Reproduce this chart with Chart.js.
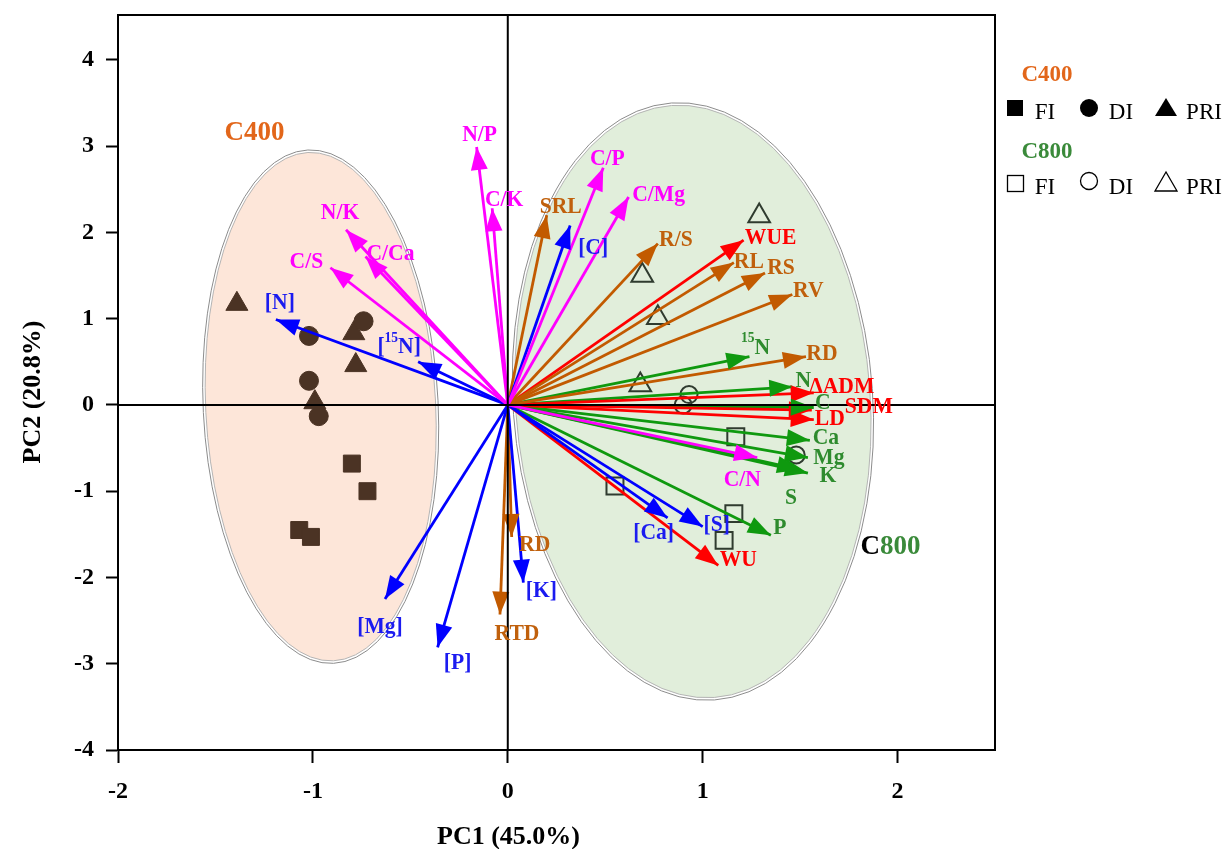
<!DOCTYPE html>
<html>
<head>
<meta charset="utf-8">
<script src="https://cdn.jsdelivr.net/npm/chart.js@4.4.1/dist/chart.umd.min.js"></script>
<style>
  body { margin: 0; background: #fff; }
  #wrap { width: 1224px; height: 849px; position: relative; }
</style>
</head>
<body>
<div id="wrap"><canvas id="pca"></canvas></div>
<script>
// loadings (arrow tips) per variable group
const ratioNames = ["N/P", "C/K", "N/K", "C/Ca", "C/S", "C/P", "C/Mg", "C/N"];
const ratioPC1 = [-0.16, -0.08, -0.83, -0.73, -0.91, 0.49, 0.62, 1.28];
const ratioPC2 = [2.99, 2.28, 2.03, 1.72, 1.59, 2.75, 2.41, -0.61];

const concNames = ["[N]", "[^15N]", "[C]", "[Mg]", "[P]", "[K]", "[Ca]", "[S]"];
const concPC1 = [-1.19, -0.46, 0.32, -0.63, -0.36, 0.08, 0.82, 1.00];
const concPC2 = [0.99, 0.50, 2.08, -2.25, -2.81, -2.06, -1.31, -1.41];

const rootNames = ["SRL", "R/S", "RL", "RS", "RV", "RD", "RD", "RTD"];
const rootPC1 = [0.20, 0.77, 1.16, 1.32, 1.46, 1.53, 0.02, -0.04];
const rootPC2 = [2.20, 1.87, 1.65, 1.53, 1.28, 0.56, -1.53, -2.43];

const waterNames = ["WUE", "\u0394ADM", "SDM", "LD", "WU"];
const waterPC1 = [1.21, 1.57, 1.56, 1.57, 1.08];
const waterPC2 = [1.91, 0.14, -0.06, -0.17, -1.86];

const nutrNames = ["^15N", "N", "C", "Ca", "Mg", "K", "S", "P"];
const nutrPC1 = [1.24, 1.46, 1.57, 1.55, 1.54, 1.54, 1.50, 1.35];
const nutrPC2 = [0.56, 0.21, -0.03, -0.41, -0.61, -0.79, -0.75, -1.51];

// scores
const c400FI = [[-0.80, -0.68], [-0.72, -1.00], [-1.07, -1.45], [-1.01, -1.53]];
const c400DI = [[-1.02, 0.80], [-0.74, 0.97], [-1.02, 0.28], [-0.97, -0.13]];
const c400PRI = [[-1.39, 1.17], [-0.79, 0.83], [-0.78, 0.46], [-0.99, 0.03]];
const c800FI = [[1.17, -0.37], [0.55, -0.94], [1.16, -1.26], [1.11, -1.57]];
const c800DI = [[0.93, 0.12], [0.90, 0.00], [1.48, -0.58]];
const c800PRI = [[1.29, 2.19], [0.69, 1.50], [0.77, 1.01], [0.68, 0.23]];

// label placement (pixel nudge from the arrow tip)
const ratioNudge = [[3, -12], [12, -8], [-6, -17], [25, -3], [-24, -6], [4, -9], [30, -2], [-15, 22]];
const concNudge = [[4, -17], [-19, -15], [23, 22], [-5, 28], [20, 15], [18, 8], [-14, 15], [14, -2]];
const rootNudge = [[14, -8], [18, -4], [15, -1], [16, -5], [16, -4], [16, -3], [23, 8], [17, 19]];
const waterNudge = [[27, -2], [28, -6], [57, -3], [16, -1], [20, -6]];
const nutrNudge = [[6, -9], [11, -6], [9, -5], [16, -3], [21, 0], [20, 3], [-9, 28], [9, -7]];

const ellipses = [
  {cx: -0.96, cy: -0.02, rx: 0.59, ry: 2.95, tilt: -0.05, fill: "#fde6d9"},
  {cx: 0.95, cy: 0.04, rx: 0.91, ry: 3.44, tilt: -0.072, fill: "#e1eedb"}
];

const SERIF = "\"Liberation Serif\", \"Times New Roman\", serif";

function vectorSets(names, xs, ys, nudges, color, textColor) {
  return names.map((n, i) => ({
    data: [{x: 0, y: 0}, {x: xs[i], y: ys[i]}],
    showLine: true,
    borderColor: color,
    borderWidth: 2.8,
    pointRadius: 0,
    order: 0,
    vecLabel: n,
    vecNudge: nudges[i],
    vecColor: color,
    textColor: textColor
  }));
}

function scoreSet(pts, style, radius, filled) {
  return {
    data: pts.map(p => ({x: p[0], y: p[1]})),
    pointStyle: style,
    pointRadius: radius,
    pointBackgroundColor: filled ? "#4b3324" : "rgba(0,0,0,0)",
    pointBorderColor: filled ? "#4b3324" : "#2f3b2f",
    pointBorderWidth: filled ? 1 : 2,
    showLine: false,
    order: 10
  };
}

// text with ^digits as superscript, drawn slightly condensed like the original
function drawRich(ctx, text, cx, cy, size) {
  const squeeze = 0.9;
  const parts = text.split(/\^(\d+)/);
  const big = "bold " + size + "px " + SERIF;
  const small = "bold " + Math.round(size * 0.62) + "px " + SERIF;
  let total = 0;
  parts.forEach((p, i) => { ctx.font = i % 2 ? small : big; total += ctx.measureText(p).width; });
  ctx.save();
  ctx.translate(cx, cy);
  ctx.scale(squeeze, 1);
  let x = -total / 2;
  ctx.textAlign = "left";
  ctx.textBaseline = "middle";
  parts.forEach((p, i) => {
    ctx.font = i % 2 ? small : big;
    ctx.fillText(p, x, i % 2 ? -size * 0.38 : 0);
    x += ctx.measureText(p).width;
  });
  ctx.restore();
}

const biplot = {
  id: "biplot",
  beforeDatasetsDraw(chart) {
    const {ctx, scales: {x, y}} = chart;
    const ux = x.getPixelForValue(1) - x.getPixelForValue(0);
    const uy = y.getPixelForValue(0) - y.getPixelForValue(1);
    ctx.save();
    ellipses.forEach(e => {
      const px = x.getPixelForValue(e.cx), py = y.getPixelForValue(e.cy);
      ctx.beginPath();
      ctx.ellipse(px, py, e.rx * ux, e.ry * uy, e.tilt, 0, Math.PI * 2);
      ctx.fillStyle = e.fill;
      ctx.fill();
      ctx.lineWidth = 1;
      ctx.strokeStyle = "#b4b4b4";
      ctx.stroke();
      ctx.beginPath();
      ctx.ellipse(px, py, e.rx * ux + 2.5, e.ry * uy + 2.5, e.tilt, 0, Math.PI * 2);
      ctx.strokeStyle = "#8c8c8c";
      ctx.stroke();
    });
    ctx.restore();
  },
  afterDatasetsDraw(chart) {
    const {ctx, chartArea: a, scales: {x, y}} = chart;
    ctx.save();
    // arrow heads
    chart.data.datasets.forEach((ds, i) => {
      if (!ds.vecLabel) return;
      const pts = chart.getDatasetMeta(i).data;
      const x0 = pts[0].x, y0 = pts[0].y, x1 = pts[1].x, y1 = pts[1].y;
      const ang = Math.atan2(y1 - y0, x1 - x0);
      const len = 23, half = 8.5;
      const bx = x1 - Math.cos(ang) * len, by = y1 - Math.sin(ang) * len;
      ctx.beginPath();
      ctx.moveTo(x1, y1);
      ctx.lineTo(bx - Math.sin(ang) * half, by + Math.cos(ang) * half);
      ctx.lineTo(bx + Math.sin(ang) * half, by - Math.cos(ang) * half);
      ctx.closePath();
      ctx.fillStyle = ds.vecColor;
      ctx.fill();
    });
    // zero lines
    ctx.strokeStyle = "#000";
    ctx.lineWidth = 2;
    ctx.beginPath();
    const zx = x.getPixelForValue(0), zy = y.getPixelForValue(0);
    ctx.moveTo(zx, a.top); ctx.lineTo(zx, a.bottom);
    ctx.moveTo(a.left, zy); ctx.lineTo(a.right, zy);
    ctx.stroke();
    // frame
    ctx.strokeRect(a.left, a.top, a.right - a.left, a.bottom - a.top);
    // variable labels
    chart.data.datasets.forEach((ds, i) => {
      if (!ds.vecLabel) return;
      const tip = chart.getDatasetMeta(i).data[1];
      ctx.fillStyle = ds.textColor;
      drawRich(ctx, ds.vecLabel, tip.x + ds.vecNudge[0], tip.y + ds.vecNudge[1], 24);
    });
    // group names inside the plot
    ctx.textBaseline = "middle";
    ctx.textAlign = "center";
    ctx.font = "bold 27px " + SERIF;
    ctx.fillStyle = "#e2661a";
    ctx.fillText("C400", x.getPixelForValue(-1.30), y.getPixelForValue(3.15));
    ctx.textAlign = "left";
    const cx = x.getPixelForValue(1.81), cy = y.getPixelForValue(-1.65);
    ctx.fillStyle = "#000";
    ctx.fillText("C", cx, cy);
    ctx.fillStyle = "#3a8a3a";
    ctx.fillText("800", cx + ctx.measureText("C").width, cy);
    ctx.restore();
  },
  afterDraw(chart) {
    const {ctx, chartArea: a} = chart;
    ctx.save();
    // axis titles
    ctx.fillStyle = "#000";
    ctx.font = "bold 26px " + SERIF;
    ctx.textAlign = "center";
    ctx.textBaseline = "middle";
    ctx.fillText("PC1 (45.0%)", (a.left + a.right) / 2 - 48, 837);
    ctx.translate(33, 392);
    ctx.rotate(-Math.PI / 2);
    ctx.fillText("PC2 (20.8%)", 0, 0);
    ctx.restore();

    // legend
    ctx.save();
    ctx.textAlign = "center";
    ctx.textBaseline = "middle";
    ctx.font = "bold 23px " + SERIF;
    ctx.fillStyle = "#e2661a";
    ctx.fillText("C400", 1047, 75);
    ctx.fillStyle = "#3a8a3a";
    ctx.fillText("C800", 1047, 152);
    ctx.font = "23px " + SERIF;
    ctx.fillStyle = "#000";
    [[113], [188]].forEach(r => {
      ctx.fillText("FI", 1045, r[0]);
      ctx.fillText("DI", 1121, r[0]);
      ctx.fillText("PRI", 1204, r[0]);
    });
    // filled markers
    ctx.fillStyle = "#000";
    ctx.fillRect(1007, 100, 16, 16);
    ctx.beginPath(); ctx.arc(1089, 108, 9, 0, Math.PI * 2); ctx.fill();
    ctx.beginPath(); ctx.moveTo(1166, 98); ctx.lineTo(1155, 116); ctx.lineTo(1177, 116); ctx.closePath(); ctx.fill();
    // open markers
    ctx.strokeStyle = "#000";
    ctx.lineWidth = 1.3;
    ctx.strokeRect(1007.5, 175.5, 16, 16);
    ctx.beginPath(); ctx.arc(1089, 181, 8.5, 0, Math.PI * 2); ctx.stroke();
    ctx.beginPath(); ctx.moveTo(1166, 172); ctx.lineTo(1155, 191); ctx.lineTo(1177, 191); ctx.closePath(); ctx.stroke();
    ctx.restore();
  }
};

const datasets = [
  ...vectorSets(ratioNames, ratioPC1, ratioPC2, ratioNudge, "#ff00ff", "#ff00ff"),
  ...vectorSets(concNames, concPC1, concPC2, concNudge, "#0000ff", "#1b1bf0"),
  ...vectorSets(rootNames, rootPC1, rootPC2, rootNudge, "#c25a00", "#c0600c"),
  ...vectorSets(waterNames, waterPC1, waterPC2, waterNudge, "#ff0000", "#ff0000"),
  ...vectorSets(nutrNames, nutrPC1, nutrPC2, nutrNudge, "#0f990f", "#2e8b2e"),
  scoreSet(c400FI, "rect", 12, true),
  scoreSet(c400DI, "circle", 9.5, true),
  scoreSet(c400PRI, "triangle", 12.7, true),
  scoreSet(c800FI, "rect", 12, false),
  scoreSet(c800DI, "circle", 8.5, false),
  scoreSet(c800PRI, "triangle", 12.5, false)
];

const tickFont = {family: SERIF, size: 24, weight: "bold"};

new Chart(document.getElementById("pca"), {
  type: "scatter",
  data: {datasets: datasets},
  plugins: [biplot],
  options: {
    responsive: true,
    maintainAspectRatio: false,
    animation: false,
    layout: {padding: {top: 15, right: 229, left: 0, bottom: 0}},
    plugins: {legend: {display: false}, tooltip: {enabled: false}},
    scales: {
      x: {
        type: "linear",
        min: -2,
        max: 2.5,
        afterFit(scale) { scale.height = 99; scale.paddingLeft = 0; scale.paddingRight = 0; },
        ticks: {stepSize: 1, includeBounds: false, color: "#000", font: tickFont, padding: 14},
        grid: {drawOnChartArea: false, drawTicks: true, tickLength: 13, tickColor: "#000", tickWidth: 2},
        border: {display: true, color: "#000", width: 2}
      },
      y: {
        type: "linear",
        min: -4,
        max: 4.52,
        afterFit(scale) { scale.width = 118; scale.paddingTop = 0; scale.paddingBottom = 0; },
        ticks: {stepSize: 1, includeBounds: false, color: "#000", font: tickFont, padding: 12},
        grid: {drawOnChartArea: false, drawTicks: true, tickLength: 12, tickColor: "#000", tickWidth: 2},
        border: {display: true, color: "#000", width: 2}
      }
    }
  }
});
</script>
</body>
</html>
